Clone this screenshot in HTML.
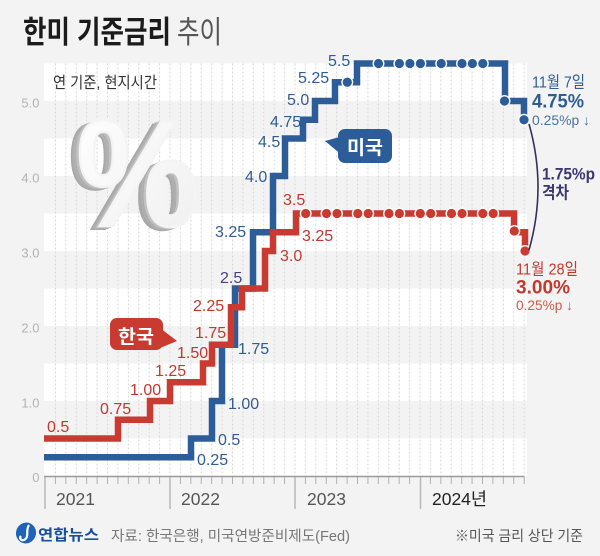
<!DOCTYPE html>
<html><head><meta charset="utf-8">
<style>
html,body{margin:0;padding:0;background:#f3f3f3;}
svg{display:block;}
text{font-family:"Liberation Sans","Noto Sans CJK KR",sans-serif;}
.bl{fill:#2f5d92;font-size:16px;}
.rd{fill:#c3392e;font-size:16px;}
.ax{fill:#b3b3b3;font-size:13px;text-anchor:end;}
.yr{fill:#555;font-size:17.5px;}
</style></head>
<body>
<svg width="600" height="556" viewBox="0 0 600 556" xmlns="http://www.w3.org/2000/svg">
<defs>
<linearGradient id="pg" x1="0" y1="0" x2="1" y2="1">
<stop offset="0" stop-color="#ffffff"/><stop offset="1" stop-color="#efefef"/>
</linearGradient>
<linearGradient id="ps" x1="0" y1="0" x2="0" y2="1">
<stop offset="0" stop-color="#bdbdbd"/><stop offset="1" stop-color="#9e9e9e"/>
</linearGradient>
</defs>
<rect width="600" height="556" fill="#f3f3f3"/>
<!-- white bands -->
<g fill="#ffffff">
<rect x="44" y="63.5" width="483" height="37.5"/>
<rect x="44" y="138.5" width="483" height="37.5"/>
<rect x="44" y="213.5" width="483" height="37.5"/>
<rect x="44" y="288.5" width="483" height="37.5"/>
<rect x="44" y="363.5" width="483" height="37.5"/>
<rect x="44" y="438.5" width="483" height="37.5"/>
</g>
<!-- vertical grid -->
<path stroke="#d8d8d8" stroke-width="1" stroke-dasharray="2,2" fill="none" d="M55.42,63.5V476M65.83,63.5V476M76.25,63.5V476M86.67,63.5V476M97.08,63.5V476M107.5,63.5V476M117.92,63.5V476M128.33,63.5V476M138.75,63.5V476M149.17,63.5V476M159.58,63.5V476M170,63.5V476M180.42,63.5V476M190.83,63.5V476M201.25,63.5V476M211.67,63.5V476M222.08,63.5V476M232.5,63.5V476M242.92,63.5V476M253.33,63.5V476M263.75,63.5V476M274.17,63.5V476M284.58,63.5V476M295,63.5V476M305.42,63.5V476M315.83,63.5V476M326.25,63.5V476M336.67,63.5V476M347.08,63.5V476M357.5,63.5V476M367.92,63.5V476M378.33,63.5V476M388.75,63.5V476M399.17,63.5V476M409.58,63.5V476M420,63.5V476M430.42,63.5V476M440.83,63.5V476M451.25,63.5V476M461.67,63.5V476M472.08,63.5V476M482.5,63.5V476M492.92,63.5V476M503.33,63.5V476M513.75,63.5V476M524.17,63.5V476"/>

<!-- title -->
<text x="23" y="43" font-size="31" font-weight="bold" fill="#1b1b1b" textLength="148" lengthAdjust="spacingAndGlyphs">한미 기준금리</text>
<text x="177" y="43" font-size="31" fill="#555" textLength="45" lengthAdjust="spacingAndGlyphs">추이</text>
<text x="53" y="88" font-size="16" fill="#333" textLength="104" lengthAdjust="spacingAndGlyphs">연 기준, 현지시간</text>

<!-- y-axis labels -->
<text class="ax" x="39.5" y="107.5">5.0</text>
<text class="ax" x="39.5" y="182.5">4.0</text>
<text class="ax" x="39.5" y="257.5">3.0</text>
<text class="ax" x="39.5" y="332.5">2.0</text>
<text class="ax" x="39.5" y="407.5">1.0</text>
<text class="ax" x="39.5" y="482">0</text>

<!-- big percent -->
<g transform="translate(80,226) scale(0.9,1)">
<text x="-13" y="3" font-size="152" font-weight="bold" fill="url(#ps)" stroke="#a8a8a8" stroke-width="2">%</text>
<text x="-10" y="2" font-size="152" font-weight="bold" fill="url(#ps)" stroke="#b0b0b0" stroke-width="2">%</text>
<text x="-7" y="1" font-size="152" font-weight="bold" fill="#c2c2c2" stroke="#c2c2c2" stroke-width="2">%</text>
<text x="-4" y="0" font-size="152" font-weight="bold" fill="url(#pg)" stroke="#f4f4f4" stroke-width="2.5">%</text>
</g>

<!-- axis -->
<line x1="44" y1="476.5" x2="524.5" y2="476.5" stroke="#9a9a9a" stroke-width="1.5"/>
<path stroke="#b0b0b0" stroke-width="1" fill="none" d="M55.42,477V484M65.83,477V484M76.25,477V484M86.67,477V484M97.08,477V484M107.5,477V484M117.92,477V484M128.33,477V484M138.75,477V484M149.17,477V484M159.58,477V484M180.42,477V484M190.83,477V484M201.25,477V484M211.67,477V484M222.08,477V484M232.5,477V484M242.92,477V484M253.33,477V484M263.75,477V484M274.17,477V484M284.58,477V484M305.42,477V484M315.83,477V484M326.25,477V484M336.67,477V484M347.08,477V484M357.5,477V484M367.92,477V484M378.33,477V484M388.75,477V484M399.17,477V484M409.58,477V484M430.42,477V484M440.83,477V484M451.25,477V484M461.67,477V484M472.08,477V484M482.5,477V484M492.92,477V484M503.33,477V484M513.75,477V484M524.17,477V484"/>
<path stroke="#b8b8b8" stroke-width="1.5" fill="none" d="M45,477V509M170,477V509M295,477V509M420.5,477V509"/>
<text class="yr" x="56" y="505">2021</text>
<text class="yr" x="181" y="505">2022</text>
<text class="yr" x="307" y="505">2023</text>
<text x="432" y="505" font-size="17.5" fill="#222" textLength="55" lengthAdjust="spacingAndGlyphs">2024년</text>

<!-- US series -->
<polyline fill="none" stroke="#2c5d98" stroke-width="6.5" stroke-linejoin="miter" points="44,457.25 191,457.25 191,438.5 212,438.5 212,401 222,401 222,344.75 235,344.75 235,288.5 253,288.5 253,232.25 273,232.25 273,176 285,176 285,138.5 303,138.5 303,119.75 315,119.75 315,101 335,101 335,82.25 357,82.25 357,63.5 505,63.5 505,101 524,101 524,119.75"/>
<g fill="#fbfbfb">
<circle cx="347.3" cy="82.25" r="6"/>
<circle cx="378.5" cy="63.5" r="6"/>
<circle cx="399.4" cy="63.5" r="6"/>
<circle cx="409.9" cy="63.5" r="6"/>
<circle cx="420.4" cy="63.5" r="6"/>
<circle cx="441.2" cy="63.5" r="6"/>
<circle cx="462" cy="63.5" r="6"/>
<circle cx="472.4" cy="63.5" r="6"/>
<circle cx="482.8" cy="63.5" r="6"/>
<circle cx="504.5" cy="101" r="6"/>
<circle cx="524" cy="119.75" r="6"/>
</g>
<g fill="#2c5d98">
<circle cx="347.3" cy="82.25" r="4.6"/>
<circle cx="378.5" cy="63.5" r="4.6"/>
<circle cx="399.4" cy="63.5" r="4.6"/>
<circle cx="409.9" cy="63.5" r="4.6"/>
<circle cx="420.4" cy="63.5" r="4.6"/>
<circle cx="441.2" cy="63.5" r="4.6"/>
<circle cx="462" cy="63.5" r="4.6"/>
<circle cx="472.4" cy="63.5" r="4.6"/>
<circle cx="482.8" cy="63.5" r="4.6"/>
<circle cx="504.5" cy="101" r="4.6"/>
<circle cx="524" cy="119.75" r="4.6"/>
</g>

<!-- Korea series -->
<polyline fill="none" stroke="#c93a30" stroke-width="6.5" stroke-linejoin="miter" points="44,438.5 118,438.5 118,419.75 150,419.75 150,401 170,401 170,382.25 203,382.25 203,363.5 212,363.5 212,344.75 231,344.75 231,307.25 242,307.25 242,288.5 265,288.5 265,251 273,251 273,232.25 296,232.25 296,213.5 514,213.5 514,232.25 525,232.25 525,251"/>
<g fill="#fbfbfb">
<circle cx="305.7" cy="213.5" r="6"/>
<circle cx="326.5" cy="213.5" r="6"/>
<circle cx="337" cy="213.5" r="6"/>
<circle cx="357.8" cy="213.5" r="6"/>
<circle cx="368.2" cy="213.5" r="6"/>
<circle cx="389" cy="213.5" r="6"/>
<circle cx="399.4" cy="213.5" r="6"/>
<circle cx="420.3" cy="213.5" r="6"/>
<circle cx="430.7" cy="213.5" r="6"/>
<circle cx="451.5" cy="213.5" r="6"/>
<circle cx="462" cy="213.5" r="6"/>
<circle cx="482.8" cy="213.5" r="6"/>
<circle cx="493.2" cy="213.5" r="6"/>
<circle cx="514.3" cy="231" r="6"/>
<circle cx="525" cy="251" r="6"/>
</g>
<g fill="#c93a30">
<circle cx="305.7" cy="213.5" r="4.6"/>
<circle cx="326.5" cy="213.5" r="4.6"/>
<circle cx="337" cy="213.5" r="4.6"/>
<circle cx="357.8" cy="213.5" r="4.6"/>
<circle cx="368.2" cy="213.5" r="4.6"/>
<circle cx="389" cy="213.5" r="4.6"/>
<circle cx="399.4" cy="213.5" r="4.6"/>
<circle cx="420.3" cy="213.5" r="4.6"/>
<circle cx="430.7" cy="213.5" r="4.6"/>
<circle cx="451.5" cy="213.5" r="4.6"/>
<circle cx="462" cy="213.5" r="4.6"/>
<circle cx="482.8" cy="213.5" r="4.6"/>
<circle cx="493.2" cy="213.5" r="4.6"/>
<circle cx="514.3" cy="231" r="4.6"/>
<circle cx="525" cy="251" r="4.6"/>
</g>

<!-- US labels -->
<text class="bl" x="328" y="66">5.5</text>
<text class="bl" x="298" y="83">5.25</text>
<text class="bl" x="287" y="105">5.0</text>
<text class="bl" x="270" y="127">4.75</text>
<text class="bl" x="258" y="147">4.5</text>
<text class="bl" x="245" y="182">4.0</text>
<text class="bl" x="215" y="237">3.25</text>
<text x="220" y="283" font-size="16" fill="#4b3f7d">2.5</text>
<text class="bl" x="238" y="354">1.75</text>
<text class="bl" x="228" y="409">1.00</text>
<text class="bl" x="218" y="445">0.5</text>
<text class="bl" x="197" y="465">0.25</text>

<!-- Korea labels -->
<text class="rd" x="47" y="432">0.5</text>
<text class="rd" x="100" y="414">0.75</text>
<text class="rd" x="130" y="395">1.00</text>
<text class="rd" x="155" y="376">1.25</text>
<text class="rd" x="177" y="358">1.50</text>
<text class="rd" x="195" y="338">1.75</text>
<text class="rd" x="193" y="311">2.25</text>
<text class="rd" x="280" y="261">3.0</text>
<text class="rd" x="302" y="241">3.25</text>
<text class="rd" x="283" y="205">3.5</text>

<!-- bubbles -->
<polygon points="325,141 343,136 343,156" fill="#2c5d98"/>
<rect x="338" y="129" width="54" height="34" rx="7" fill="#2c5d98"/>
<text x="347" y="154" font-size="19" font-weight="bold" fill="#fff" textLength="36" lengthAdjust="spacingAndGlyphs">미국</text>

<polygon points="160,328 177,341 160,348" fill="#c93a30"/>
<rect x="110" y="318" width="53" height="32" rx="7" fill="#c93a30"/>
<text x="118" y="343" font-size="19" font-weight="bold" fill="#fff" textLength="36" lengthAdjust="spacingAndGlyphs">한국</text>

<!-- right annotations -->
<text x="532" y="87.5" font-size="16" fill="#2f5d92" textLength="53" lengthAdjust="spacingAndGlyphs">11월 7일</text>
<text x="532" y="107.5" font-size="19" font-weight="bold" fill="#2f5d92" textLength="52" lengthAdjust="spacingAndGlyphs">4.75%</text>
<text x="532" y="125" font-size="14" fill="#4a72a3" textLength="58" lengthAdjust="spacingAndGlyphs">0.25%p ↓</text>

<path d="M529,124 Q547,187 529,250" stroke="#33305f" stroke-width="1.6" fill="none"/>
<text x="542" y="179.5" font-size="17" font-weight="bold" fill="#3b3772" textLength="53" lengthAdjust="spacingAndGlyphs">1.75%p</text>
<text x="542" y="198.5" font-size="17" font-weight="bold" fill="#3b3772" textLength="27" lengthAdjust="spacingAndGlyphs">격차</text>

<text x="516" y="274.5" font-size="16" fill="#c3392e" textLength="62" lengthAdjust="spacingAndGlyphs">11월 28일</text>
<text x="516" y="293.5" font-size="19" font-weight="bold" fill="#c3392e" textLength="54" lengthAdjust="spacingAndGlyphs">3.00%</text>
<text x="516" y="310" font-size="14" fill="#cc5a50" textLength="57" lengthAdjust="spacingAndGlyphs">0.25%p ↓</text>

<!-- footer -->
<g transform="translate(26,533)">
<ellipse cx="0" cy="0" rx="10" ry="10.5" fill="#1e63b8" transform="rotate(20)"/>
<path d="M3,-8 C-1,-2 4,4 -2,7 C-5,8 -7,5 -5,3" stroke="#fff" stroke-width="2.2" fill="none"/>
</g>
<text x="38" y="540" font-size="15" font-weight="bold" fill="#1b4f9c" textLength="61" lengthAdjust="spacingAndGlyphs">연합뉴스</text>
<text x="111" y="541" font-size="14.5" fill="#777" textLength="239" lengthAdjust="spacingAndGlyphs">자료: 한국은행, 미국연방준비제도(Fed)</text>
<text x="455" y="541" font-size="14.5" fill="#555" textLength="128" lengthAdjust="spacingAndGlyphs">※미국 금리 상단 기준</text>
</svg>
</body></html>
